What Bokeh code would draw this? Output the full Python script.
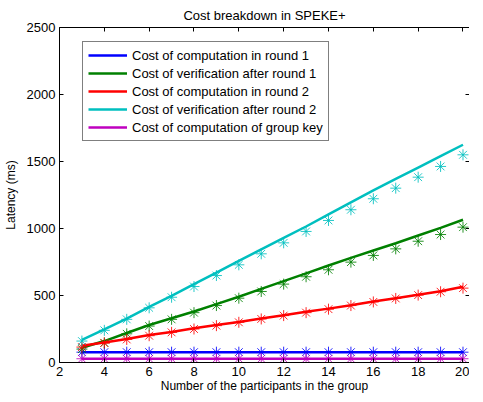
from bokeh.plotting import figure
from bokeh.models import Range1d, LinearAxis, FixedTicker, Legend, LegendItem, CustomJSTickFormatter
from bokeh.embed import file_html
from bokeh.resources import INLINE

participants = list(range(3, 21))

# line series (ms)
comp_round1_line = [77] * 18
verif_round1_line = [110, 160, 220, 280, 330, 381, 436, 491, 549, 607, 665, 724, 781, 836, 890, 948, 1005, 1065]
comp_round2_line = [125, 150, 175, 205, 228, 255, 280, 303, 328, 353, 378, 402, 428, 455, 480, 505, 532, 565]
verif_round2_line = [169, 248, 328, 415, 498, 585, 670, 758, 845, 930, 1015, 1105, 1195, 1284, 1370, 1455, 1540, 1625]
group_key_line = [28] * 18

# asterisk series (ms)
comp_round1_pts = [77] * 18
verif_round1_pts = [100, 147, 214, 272, 322, 372, 425, 480, 530, 585, 640, 692, 749, 799, 848, 905, 955, 1010]
comp_round2_pts = [115, 145, 172, 200, 225, 250, 275, 300, 325, 350, 372, 398, 425, 452, 478, 503, 528, 555]
verif_round2_pts = [160, 240, 322, 408, 487, 567, 649, 729, 811, 893, 978, 1060, 1140, 1222, 1301, 1383, 1463, 1550]
group_key_pts = [28] * 18

labels = ["Cost of computation in round 1",
          "Cost of verification after round 1",
          "Cost of computation in round 2",
          "Cost of verification after round 2",
          "Cost of computation of group key"]
colors = ["#0000ff", "#008000", "#ff0000", "#00bfbf", "#bf00bf"]

x_ticks = [2, 4, 6, 8, 10, 12, 14, 16, 18, 20]
y_ticks = [0, 500, 1000, 1500, 2000, 2500]

FONT = "Liberation Sans"

p = figure(frame_width=410, frame_height=335, output_backend="svg", toolbar_location=None,
           x_range=Range1d(2, 20.29), y_range=Range1d(0, 2500),
           min_border_left=56, min_border_right=0, min_border_top=0, min_border_bottom=0)

p.title.text = "Cost breakdown in SPEKE+"
p.title.align = "center"
p.title.text_font = FONT
p.title.text_font_size = "13px"
p.title.text_font_style = "normal"
p.title.text_color = "black"
p.title.standoff = 10
p.outline_line_color = None
p.xgrid.visible = False
p.ygrid.visible = False

def style_axis(ax, ticks, show_labels=True):
    ax.ticker = FixedTicker(ticks=ticks)
    ax.major_tick_in = 4
    ax.major_tick_out = 0
    ax.minor_tick_in = 0
    ax.minor_tick_out = 0
    ax.axis_line_color = "black"
    ax.axis_line_width = 1
    ax.major_tick_line_color = "black"
    ax.major_label_text_font = FONT
    ax.major_label_text_font_size = "13px"
    ax.major_label_text_color = "black"
    ax.axis_label_text_font = FONT
    ax.axis_label_text_font_size = "12px"
    ax.axis_label_text_font_style = "normal"
    ax.axis_label_text_color = "black"
    if not show_labels:
        ax.formatter = CustomJSTickFormatter(code="return ''")
        ax.major_label_standoff = 0

style_axis(p.xaxis[0], x_ticks)
style_axis(p.yaxis[0], y_ticks)
p.xaxis[0].axis_label = "Number of the participants in the group"
p.yaxis[0].axis_label = "Latency (ms)"
p.xaxis[0].major_label_standoff = 4
p.xaxis[0].axis_label_standoff = 0
p.yaxis[0].major_label_standoff = 4
p.yaxis[0].axis_label_standoff = 6

top = LinearAxis()
style_axis(top, x_ticks, show_labels=False)
p.add_layout(top, "above")
right = LinearAxis()
style_axis(right, y_ticks, show_labels=False)
p.add_layout(right, "right")

line_series = [comp_round1_line, verif_round1_line, comp_round2_line, verif_round2_line, group_key_line]
pt_series = [comp_round1_pts, verif_round1_pts, comp_round2_pts, verif_round2_pts, group_key_pts]

items = []
for lab, col, ly, py in zip(labels, colors, line_series, pt_series):
    r = p.line(participants, ly, line_color=col, line_width=2.5)
    p.scatter(participants, py, marker="asterisk", size=11, line_color=col, line_width=1, line_alpha=0.85)
    items.append(LegendItem(label=lab, renderers=[r]))

legend = Legend(items=items, location=(23, 221))
legend.border_line_color = "black"
legend.border_line_width = 1
legend.background_fill_color = "white"
legend.background_fill_alpha = 1
legend.label_text_font = FONT
legend.label_text_font_size = "13px"
legend.label_text_color = "black"
legend.glyph_width = 39
legend.glyph_height = 16
legend.label_height = 16
legend.spacing = 2
legend.padding = 5
legend.margin = 0
legend.label_standoff = 5
p.add_layout(legend, "center")

open("out.html", "w").write(file_html(p, INLINE))
